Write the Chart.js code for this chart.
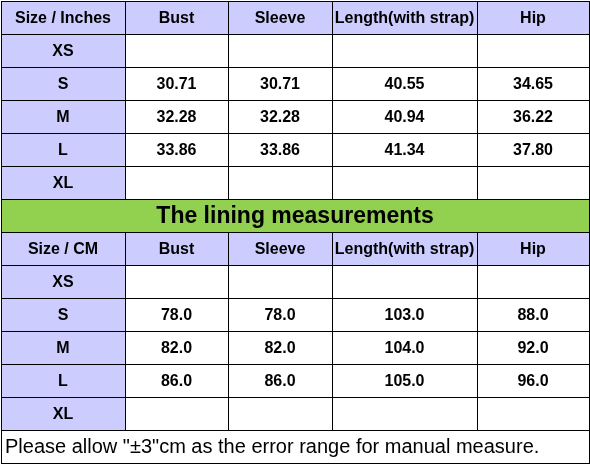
<!DOCTYPE html>
<html><head><meta charset="utf-8">
<script src="https://cdn.jsdelivr.net/npm/chart.js@4/dist/chart.umd.min.js"></script>
<style>html,body{margin:0;padding:0;background:#fff}#w{width:590px;height:465px}</style>
</head><body><div id="w"><canvas id="c"></canvas></div>
<script>
const sizes = ["XS","S","M","L","XL"];
const headersInch = ["Size / Inches","Bust","Sleeve","Length(with strap)","Hip"];
const headersCm = ["Size / CM","Bust","Sleeve","Length(with strap)","Hip"];
const bustIn = [null,30.71,32.28,33.86,null];
const sleeveIn = [null,30.71,32.28,33.86,null];
const lengthIn = [null,40.55,40.94,41.34,null];
const hipIn = [null,34.65,36.22,37.80,null];
const bustCm = [null,78.0,82.0,86.0,null];
const sleeveCm = [null,78.0,82.0,86.0,null];
const lengthCm = [null,103.0,104.0,105.0,null];
const hipCm = [null,88.0,92.0,96.0,null];
const titleText = "The lining measurements";
const footerText = 'Please allow "\u00b13"cm as the error range for manual measure.';

const colEdges = [1,125,228,332,477,589];
const rowH = 33;
const LAV = "#ccccff", GREEN = "#92d050";

const tablePlugin = {
  id:"table",
  afterDraw(chart){
    const ctx = chart.ctx, xs = chart.scales.x, ys = chart.scales.y;
    const X = v=>xs.getPixelForValue(v), Y = v=>ys.getPixelForValue(v);
    function cell(c0,c1,r0,r1,fill,text,font){
      const x0=X(c0),x1=X(c1),y0=Y(r0),y1=Y(r1);
      ctx.fillStyle=fill; ctx.fillRect(x0,y0,x1-x0,y1-y0);
      ctx.strokeStyle="#000"; ctx.lineWidth=1;
      ctx.strokeRect(Math.round(x0)+0.5,Math.round(y0)+0.5,x1-x0,y1-y0);
      if(text!=null && text!==""){
        ctx.fillStyle="#000"; ctx.font=font||"bold 16px 'Liberation Sans', Arial, sans-serif";
        ctx.textAlign="center"; ctx.textBaseline="middle";
        ctx.fillText(text,(x0+x1)/2,(y0+y1)/2+1);
      }
    }
    function block(top,headers,cols,dec){
      for(let c=0;c<5;c++) cell(colEdges[c],colEdges[c+1],top,top+rowH,LAV,headers[c]);
      sizes.forEach((s,i)=>{
        const r=top+rowH*(i+1);
        cell(colEdges[0],colEdges[1],r,r+rowH,LAV,s);
        cols.forEach((arr,j)=>{
          const v=arr[i];
          cell(colEdges[j+1],colEdges[j+2],r,r+rowH,"#fff",v==null?"":v.toFixed(dec));
        });
      });
    }
    block(1,headersInch,[bustIn,sleeveIn,lengthIn,hipIn],2);
    cell(colEdges[0],colEdges[5],1+rowH*6,1+rowH*7,GREEN,titleText,"bold 23px 'Liberation Sans', Arial, sans-serif");
    block(1+rowH*7,headersCm,[bustCm,sleeveCm,lengthCm,hipCm],1);
    const ft=1+rowH*13;
    cell(colEdges[0],colEdges[5],ft,463,"#fff",null);
    ctx.fillStyle="#000"; ctx.font="20px 'Liberation Sans', Arial, sans-serif";
    ctx.textAlign="left"; ctx.textBaseline="middle";
    ctx.fillText(footerText,X(5),(Y(ft)+Y(463))/2+1);
  }
};

new Chart(document.getElementById("c"),{
  type:"scatter",
  data:{datasets:[{data:[]}]},
  options:{
    responsive:true,maintainAspectRatio:false,animation:false,
    layout:{padding:0},
    plugins:{legend:{display:false},tooltip:{enabled:false}},
    scales:{
      x:{type:"linear",min:0,max:590,display:false},
      y:{type:"linear",min:0,max:465,reverse:true,display:false}
    }
  },
  plugins:[tablePlugin]
});
</script></body></html>
